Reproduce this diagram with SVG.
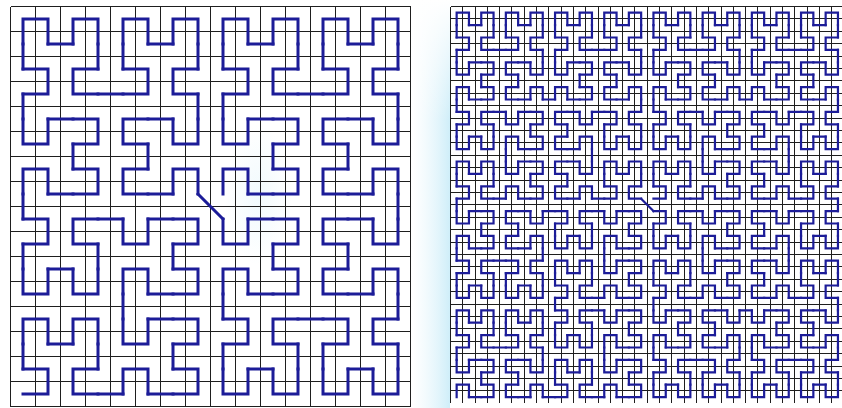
<svg xmlns="http://www.w3.org/2000/svg" xmlns:xlink="http://www.w3.org/1999/xlink" width="842" height="408" viewBox="0 0 842 408">
<style>
.grid{fill:none;stroke:#1e1e1e;stroke-width:1;shape-rendering:crispEdges}
.curve{fill:none;stroke:#1c1c98;stroke-linecap:square;stroke-linejoin:miter}
</style>
<defs>
<linearGradient id="glow" x1="0" y1="0" x2="1" y2="0">
<stop offset="0" stop-color="#e4f5fb" stop-opacity="0"/>
<stop offset="1" stop-color="#cfeef9" stop-opacity="1"/>
</linearGradient>
<linearGradient id="fade" x1="0" y1="0" x2="0" y2="1">
<stop offset="0" stop-color="#ffffff" stop-opacity="1"/>
<stop offset="1" stop-color="#ffffff" stop-opacity="0"/>
</linearGradient>
<radialGradient id="wm" cx="0.5" cy="0.5" r="0.5">
<stop offset="0" stop-color="#e3f5fb" stop-opacity="0.5"/>
<stop offset="1" stop-color="#e3f5fb" stop-opacity="0"/>
</radialGradient>
<path id="h2" d="M0,1V0H1V1" vector-effect="non-scaling-stroke"/>
<g id="h4">
<use href="#h2" transform="matrix(0,-1,-1,0,1,3)"/>
<use href="#h2"/>
<use href="#h2" transform="translate(2,0)"/>
<use href="#h2" transform="matrix(0,1,1,0,2,2)"/>
<path d="M0,2V1M1,1H2M3,1V2" vector-effect="non-scaling-stroke"/>
</g>
<g id="h8">
<use href="#h4" transform="matrix(0,-1,-1,0,3,7)"/>
<use href="#h4"/>
<use href="#h4" transform="translate(4,0)"/>
<use href="#h4" transform="matrix(0,1,1,0,4,4)"/>
<path d="M0,4V3M3,3H4M7,3V4" vector-effect="non-scaling-stroke"/>
</g>
<g id="h16">
<use href="#h8" transform="matrix(0,-1,-1,0,7,15)"/>
<use href="#h8"/>
<use href="#h8" transform="translate(8,0)"/>
<use href="#h8" transform="matrix(0,1,1,0,8,8)"/>
<path d="M0,8V7M7,7H8M15,7V8" vector-effect="non-scaling-stroke"/>
</g>
<g id="f16">
<use href="#h8"/>
<use href="#h8" transform="translate(8,0)"/>
<use href="#h8" transform="matrix(1,0,0,-1,8,15)"/>
<use href="#h8" transform="matrix(0,1,-1,0,7,8)"/>
<path d="M0,8V7M7,7L8,8M15,8V7" vector-effect="non-scaling-stroke"/>
</g>
<g id="f32">
<use href="#h16"/>
<use href="#h16" transform="translate(16,0)"/>
<use href="#h16" transform="matrix(1,0,0,-1,16,31)"/>
<use href="#h16" transform="matrix(0,1,-1,0,15,16)"/>
<path d="M0,16V15M15,15L16,16M31,16V15" vector-effect="non-scaling-stroke"/>
</g>
</defs>
<rect x="0" y="0" width="842" height="408" fill="#ffffff"/>
<rect x="412" y="0" width="38" height="408" fill="url(#glow)"/>
<rect x="412" y="0" width="38" height="120" fill="url(#fade)"/>
<ellipse cx="258" cy="195" rx="34" ry="70" fill="url(#wm)"/>
<g id="left-panel">
<path class="grid" d="M10.5,6.5v400m25,-400v400m25,-400v400m25,-400v400m25,-400v400m25,-400v400m25,-400v400m25,-400v400m25,-400v400m25,-400v400m25,-400v400m25,-400v400m25,-400v400m25,-400v400m25,-400v400m25,-400v400m25,-400v400M10.5,6.5h400m-400,25h400m-400,25h400m-400,25h400m-400,25h400m-400,25h400m-400,25h400m-400,25h400m-400,25h400m-400,25h400m-400,25h400m-400,25h400m-400,25h400m-400,25h400m-400,25h400m-400,25h400m-400,25h400"/>
<use class="curve" href="#f16" transform="translate(23,19) scale(25)" stroke-width="3"/>
</g>
<g id="right-panel">
<path class="grid" d="M450.5,6.5v396.8m12.3,-396.8v396.8m12.3,-396.8v396.8m12.3,-396.8v396.8m12.3,-396.8v396.8m12.3,-396.8v396.8m12.3,-396.8v396.8m12.3,-396.8v396.8m12.3,-396.8v396.8m12.3,-396.8v396.8m12.3,-396.8v396.8m12.3,-396.8v396.8m12.3,-396.8v396.8m12.3,-396.8v396.8m12.3,-396.8v396.8m12.3,-396.8v396.8m12.3,-396.8v396.8m12.3,-396.8v396.8m12.3,-396.8v396.8m12.3,-396.8v396.8m12.3,-396.8v396.8m12.3,-396.8v396.8m12.3,-396.8v396.8m12.3,-396.8v396.8m12.3,-396.8v396.8m12.3,-396.8v396.8m12.3,-396.8v396.8m12.3,-396.8v396.8m12.3,-396.8v396.8m12.3,-396.8v396.8m12.3,-396.8v396.8m12.3,-396.8v396.8m12.3,-396.8v396.8M450.5,6.5h393.6m-393.6,12.4h393.6m-393.6,12.4h393.6m-393.6,12.4h393.6m-393.6,12.4h393.6m-393.6,12.4h393.6m-393.6,12.4h393.6m-393.6,12.4h393.6m-393.6,12.4h393.6m-393.6,12.4h393.6m-393.6,12.4h393.6m-393.6,12.4h393.6m-393.6,12.4h393.6m-393.6,12.4h393.6m-393.6,12.4h393.6m-393.6,12.4h393.6m-393.6,12.4h393.6m-393.6,12.4h393.6m-393.6,12.4h393.6m-393.6,12.4h393.6m-393.6,12.4h393.6m-393.6,12.4h393.6m-393.6,12.4h393.6m-393.6,12.4h393.6m-393.6,12.4h393.6m-393.6,12.4h393.6m-393.6,12.4h393.6m-393.6,12.4h393.6m-393.6,12.4h393.6m-393.6,12.4h393.6m-393.6,12.4h393.6m-393.6,12.4h393.6"/>
<use class="curve" href="#f32" transform="translate(456.65,12.7) scale(12.3,12.4)" stroke-width="2.2"/>
</g>
</svg>
